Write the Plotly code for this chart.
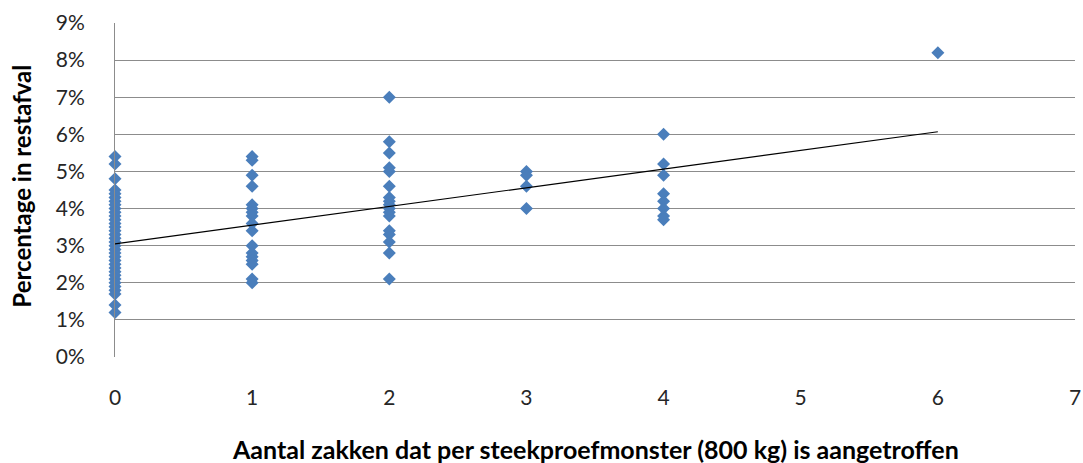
import numpy as np
import plotly.graph_objects as go

# Data (percent values)
x0_vals = [5.4, 5.2, 4.8, 4.5, 4.4, 4.3, 4.2, 4.1, 4.0, 3.9, 3.8, 3.7, 3.6, 3.5, 3.4, 3.3, 3.2,
           3.1, 3.0, 2.9, 2.8, 2.7, 2.6, 2.5, 2.4, 2.3, 2.2, 2.1, 2.0, 1.9, 1.8, 1.7, 1.4, 1.2]
x1_vals = [5.4, 5.3, 4.9, 4.6, 4.1, 4.0, 3.9, 3.8, 3.6, 3.4, 3.0, 2.8, 2.7, 2.6, 2.5, 2.1, 2.0]
x2_vals = [7.0, 5.8, 5.5, 5.1, 5.0, 4.6, 4.3, 4.2, 4.1, 4.0, 3.9, 3.8, 3.4, 3.3, 3.1, 2.8, 2.1]
x3_vals = [5.0, 4.9, 4.6, 4.0]
x4_vals = [6.0, 5.2, 4.9, 4.4, 4.2, 4.0, 3.8, 3.7]
x6_vals = [8.2]

groups = {0: x0_vals, 1: x1_vals, 2: x2_vals, 3: x3_vals, 4: x4_vals, 6: x6_vals}

# Trend line endpoints (percent)
trend_x = [0, 6]
trend_y = [3.05, 6.07]

x_ticks = [0, 1, 2, 3, 4, 5, 6, 7]
y_ticks = [0, 0.01, 0.02, 0.03, 0.04, 0.05, 0.06, 0.07, 0.08, 0.09]

x_title = "Aantal zakken dat per steekproefmonster (800 kg) is aangetroffen"
y_title = "Percentage in restafval"

xs, ys = [], []
for k, vals in groups.items():
    xs += [k] * len(vals)
    ys += [v / 100 for v in vals]

fig = go.Figure()
fig.add_trace(go.Scatter(
    x=xs, y=ys, mode="markers",
    marker=dict(symbol="diamond", size=10, color="#4A7EBB", line=dict(width=0)),
    showlegend=False, cliponaxis=False))
fig.add_trace(go.Scatter(
    x=trend_x, y=[v / 100 for v in trend_y], mode="lines",
    line=dict(color="black", width=1.2), showlegend=False))

font_family = "Lato, 'Liberation Sans', sans-serif"
fig.update_layout(
    width=1083, height=463,
    margin=dict(l=115, r=8, t=23, b=106, autoexpand=False),
    paper_bgcolor="white", plot_bgcolor="white",
    font=dict(family=font_family, color="#262626", size=21),
    xaxis=dict(range=[0, 7], tickvals=x_ticks, showgrid=False, zeroline=False,
               showline=False, ticks="", ticklabelstandoff=26, automargin=False,
               ticklabeloverflow="allow", tickfont=dict(size=21)),
    yaxis=dict(range=[0, 0.09], tickvals=y_ticks, tickformat=".0%",
               showgrid=True, gridcolor="#8c8c8c", gridwidth=1,
               zeroline=False, showline=True, linecolor="#8c8c8c", linewidth=1,
               ticks="", ticklabelstandoff=25, automargin=False,
               ticklabeloverflow="allow", tickfont=dict(size=21)),
    annotations=[
        dict(text="<b>" + x_title + "</b>", xref="paper", yref="paper",
             x=0.501, y=(357 - 449) / 334, xanchor="center", yanchor="middle", showarrow=False,
             font=dict(size=25, color="#000000")),
        dict(text="<b>" + y_title + "</b>", xref="paper", yref="paper",
             x=(22 - 115) / 960, y=0.51, xanchor="center", yanchor="middle",
             textangle=-90, showarrow=False, font=dict(size=24, color="#000000")),
    ],
)

# remove the browser's default 8px page margin so the figure fills the window
fig.write_html("out.html", config={"displayModeBar": False},
               post_script="document.body.style.margin='0px';")
